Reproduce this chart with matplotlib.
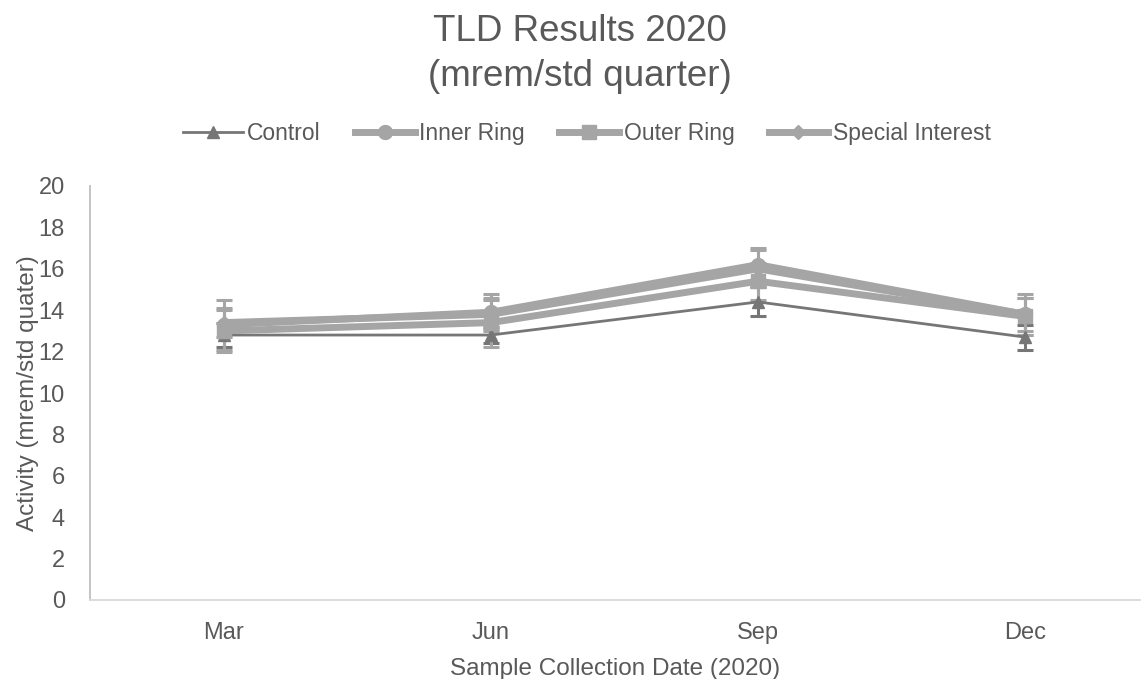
import matplotlib
matplotlib.use("Agg")
import matplotlib.pyplot as plt
from matplotlib.lines import Line2D

plt.rcParams["font.family"] = ["Liberation Sans", "DejaVu Sans"]

# quarterly TLD results
months = ["Mar", "Jun", "Sep", "Dec"]
control = [12.8, 12.8, 14.4, 12.7]
control_err = [0.6, 0.4, 0.7, 0.6]
inner_ring = [13.3, 13.9, 16.2, 13.8]
inner_err = [1.2, 0.9, 0.8, 1.0]
outer_ring = [13.0, 13.4, 15.4, 13.7]
outer_err = [1.0, 1.2, 0.9, 0.9]
special = [13.4, 13.8, 16.0, 13.8]
special_err = [0.7, 0.7, 0.9, 0.8]

DARK = "#767676"
LIGHT = "#A5A5A5"
TXT = "#595959"

fig = plt.figure(figsize=(11.44, 6.79), dpi=100)
ax = fig.add_axes([90 / 1144, 79 / 679, 1050 / 1144, 414 / 679])

x = list(range(len(months)))
series = [
    ("Control", control, control_err, DARK, 2.0, "^", 9),
    ("Inner Ring", inner_ring, inner_err, LIGHT, 5.0, "o", 10),
    ("Outer Ring", outer_ring, outer_err, LIGHT, 5.0, "s", 10),
    ("Special Interest", special, special_err, LIGHT, 5.0, "D", 7),
]
handles = []
for name, vals, err, col, lw, mk, ms in series:
    ax.errorbar(x, vals, yerr=err, color=col, lw=lw, marker=mk, ms=ms,
                ecolor=col, elinewidth=2.2, capsize=6, capthick=2.2, zorder=3)
    handles.append(Line2D([], [], color=col, lw=lw, marker=mk, ms=ms, label=name))

ax.set_xlim(-0.5, 3.43)
ax.set_ylim(0, 20)
ax.set_yticks(range(0, 21, 2))
ax.set_xticks(x)
ax.set_xticklabels(months)
ax.tick_params(length=0, labelsize=17, colors=TXT)
ax.tick_params(axis="x", pad=16)
ax.tick_params(axis="y", pad=18)

for s in ["top", "right"]:
    ax.spines[s].set_visible(False)
ax.spines["left"].set_color("#BFBFBF")
ax.spines["bottom"].set_color("#D9D9D9")
ax.spines["left"].set_linewidth(1.3)
ax.spines["bottom"].set_linewidth(1.3)

ax.set_ylabel("Activity (mrem/std quater)", fontsize=17.5, color=TXT, labelpad=0)
ax.set_xlabel("Sample Collection Date (2020)", fontsize=17.5, color=TXT, labelpad=10)

fig.text(0.507, 0.953, "TLD Results 2020", ha="center", va="center",
         fontsize=26.5, color=TXT)
fig.text(0.507, 0.887, "(mrem/std quarter)", ha="center", va="center",
         fontsize=26.5, color=TXT)

fig.legend(handles=handles, loc="center", bbox_to_anchor=(0.513, 0.803), ncol=4,
           frameon=False, fontsize=16.5, handlelength=2.6, handletextpad=0.2,
           columnspacing=1.5, labelcolor=TXT)

fig.savefig("out.png", dpi=100)
